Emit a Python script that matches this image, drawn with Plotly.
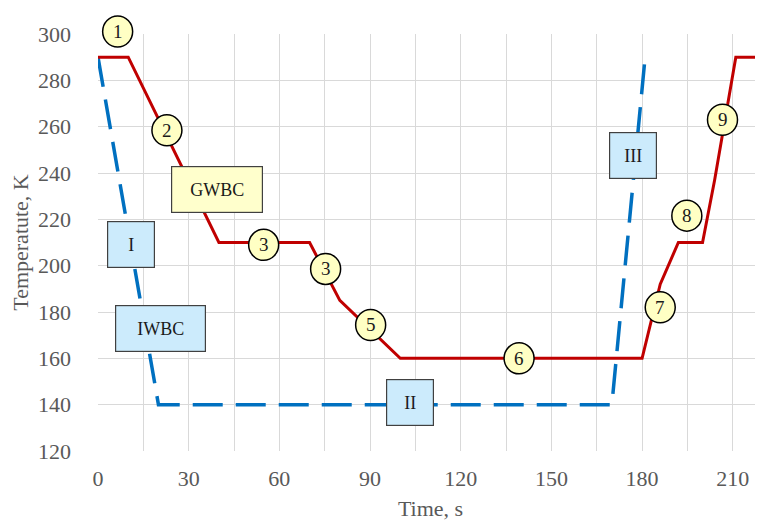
import plotly.graph_objects as go

# --- data ---
time_gwbc = [0, 10, 40, 70, 80, 100, 180, 186, 192, 200, 204, 211, 220]
temp_gwbc = [290, 290, 210, 210, 185, 160, 160, 192, 210, 210, 237, 290, 290]

time_iwbc = [0, 20, 170, 181]
temp_iwbc = [290, 140, 140, 290]

circle_labels = ["1", "2", "3", "3", "5", "6", "7", "8", "9"]
circle_t = [6.5, 22.8, 54.8, 75.3, 90.2, 139.3, 186.0, 194.8, 206.6]
circle_k = [301.1, 258.4, 209.0, 198.6, 174.4, 160.0, 182.0, 221.6, 263.0]

box_labels = ["GWBC", "I", "IWBC", "II", "III"]
box_t = [39.4, 10.9, 20.8, 103.2, 176.9]
box_k = [232.7, 209.0, 172.8, 140.9, 247.6]
box_w = [93, 49, 92, 49, 49]
box_fill = ["#FFFFCC", "#CCEBFC", "#CCEBFC", "#CCEBFC", "#CCEBFC"]

x_ticks = [0, 30, 60, 90, 120, 150, 180, 210]
y_ticks = [120, 140, 160, 180, 200, 220, 240, 260, 280, 300]

X_RANGE = [0, 220]
Y_RANGE = [120, 300]

FONT = "Liberation Serif"

fig = go.Figure()

fig.add_trace(go.Scatter(
    x=time_iwbc, y=temp_iwbc, mode="lines",
    line=dict(color="#0070C0", width=3.5, dash="30px,13px"),
    showlegend=False, hoverinfo="skip"))

fig.add_trace(go.Scatter(
    x=time_gwbc, y=temp_gwbc, mode="lines",
    line=dict(color="#C00000", width=3),
    showlegend=False, hoverinfo="skip"))

# numbered circles: pixel-sized circle shapes anchored at data points
for lab, t, k in zip(circle_labels, circle_t, circle_k):
    if k > Y_RANGE[1]:
        # above the plot top: anchor in paper units so it is not clipped
        yref, yanc = "paper", (k - Y_RANGE[0]) / (Y_RANGE[1] - Y_RANGE[0])
    else:
        yref, yanc = "y", k
    fig.add_shape(
        type="circle", xref="x", yref=yref,
        xsizemode="pixel", ysizemode="pixel",
        xanchor=t, yanchor=yanc,
        x0=-15, x1=15, y0=-15.5, y1=15.5,
        fillcolor="#FFFFC4", line=dict(color="#000000", width=1.5),
        layer="above")
    fig.add_annotation(
        x=t, y=yanc, xref="x", yref=yref, text=lab, showarrow=False,
        xanchor="center", yanchor="middle",
        font=dict(family=FONT, size=19, color="#1a1a1a"))

for lab, t, k, w, fc in zip(box_labels, box_t, box_k, box_w, box_fill):
    fig.add_annotation(
        x=t, y=k, xref="x", yref="y", text=lab, showarrow=False,
        xanchor="center", yanchor="middle",
        font=dict(family=FONT, size=18, color="#1a1a1a"),
        bgcolor=fc, bordercolor="#404040", borderwidth=1.2,
        width=w - 3, height=45, borderpad=0, align="center", valign="middle")

fig.update_xaxes(
    range=X_RANGE, tickvals=x_ticks, ticktext=[str(v) for v in x_ticks],
    showgrid=True, gridcolor="#D9D9D9", gridwidth=1,
    minor=dict(dtick=15, tick0=0, showgrid=True, gridcolor="#D9D9D9", gridwidth=1),
    zeroline=False, showline=False, automargin=False,
    tickfont=dict(family=FONT, size=22, color="#595959"),
    ticklabelstandoff=12,
    title=dict(text="Time, s", font=dict(family=FONT, size=22, color="#595959"), standoff=10))

fig.update_yaxes(
    range=Y_RANGE, tickvals=y_ticks, ticktext=[str(v) for v in y_ticks],
    showgrid=True, gridcolor="#D9D9D9", gridwidth=1,
    zeroline=False, showline=False, automargin=False,
    tickfont=dict(family=FONT, size=22, color="#595959"),
    ticklabelstandoff=26,
    title=dict(text="Temperatute, K", font=dict(family=FONT, size=22, color="#595959"), standoff=8))

# page body adds an 8px margin, so the figure is slightly smaller and shifted
fig.update_layout(
    width=755, height=515,
    margin=dict(l=90, r=0, t=26, b=72),
    paper_bgcolor="white", plot_bgcolor="white",
    showlegend=False)

fig.write_html("out.html")
